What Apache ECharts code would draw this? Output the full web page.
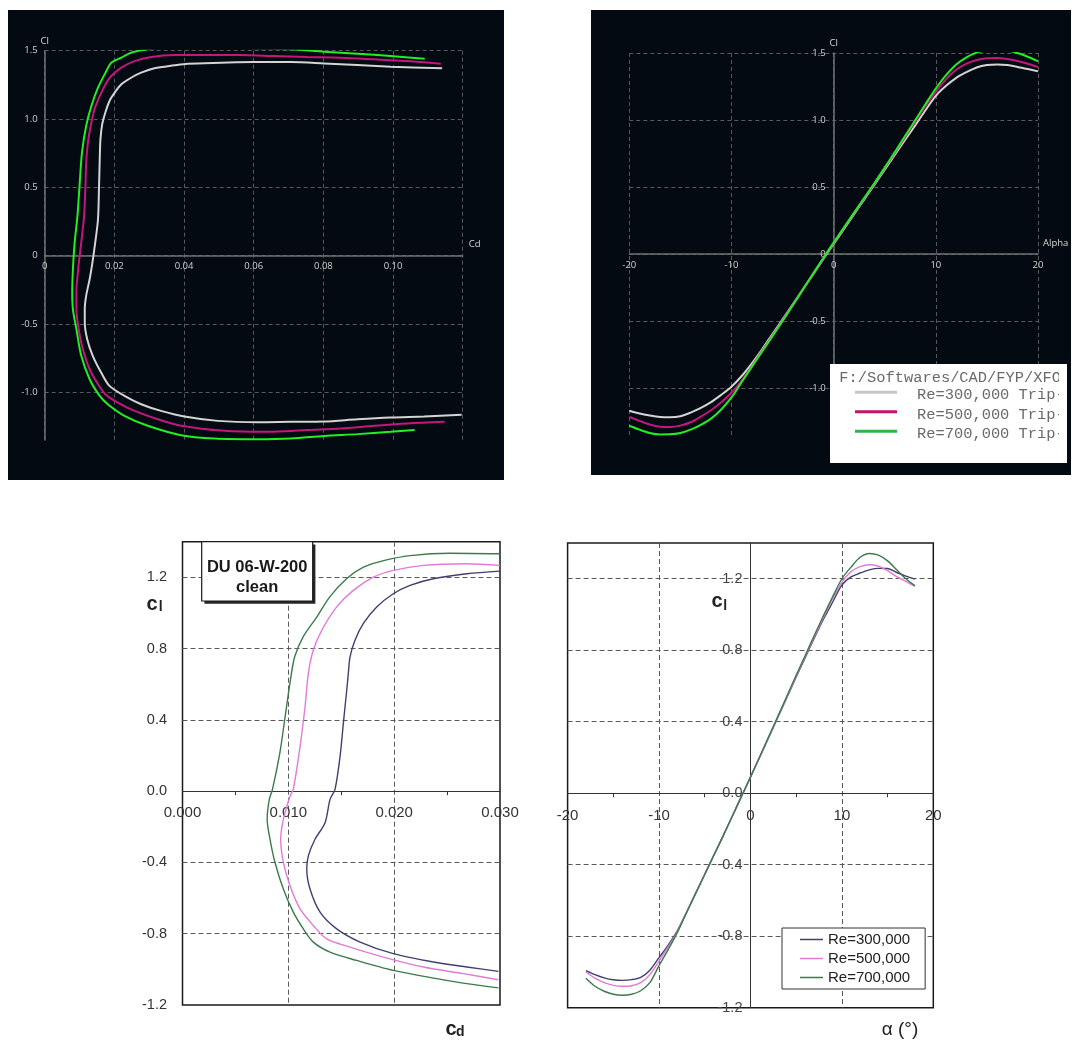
<!DOCTYPE html>
<html>
<head>
<meta charset="utf-8">
<title>DU 06-W-200 polars</title>
<script src="https://cdn.jsdelivr.net/npm/echarts@6/dist/echarts.min.js"></script>
<style>
  html, body { margin: 0; padding: 0; background: #ffffff; }
  #chart { width: 1072px; height: 1041px; }
</style>
</head>
<body>
<div id="chart"></div>
<script>
// ---------- XFLR5 drag polar (Cl vs Cd), walked from negative to positive alpha ----------
const tlCd300 = [0.1197, 0.1089, 0.0993, 0.0898, 0.0802, 0.0707, 0.0611, 0.0497, 0.0401, 0.0334, 0.0277, 0.0229, 0.0186, 0.0162, 0.0138, 0.0122, 0.0115, 0.0115, 0.0119, 0.0129, 0.0137, 0.0145, 0.0153, 0.0156, 0.0158, 0.0160, 0.0165, 0.0174, 0.0186, 0.0201, 0.0220, 0.0248, 0.0277, 0.0315, 0.0372, 0.0410, 0.0506, 0.0602, 0.0707, 0.0802, 0.0993, 0.1141];
const tlCl300 = [-1.166, -1.178, -1.185, -1.198, -1.215, -1.217, -1.220, -1.210, -1.178, -1.137, -1.088, -1.027, -0.954, -0.856, -0.734, -0.612, -0.490, -0.393, -0.295, -0.173, -0.051, 0.095, 0.266, 0.510, 0.705, 0.851, 0.961, 1.046, 1.132, 1.193, 1.254, 1.302, 1.339, 1.371, 1.393, 1.405, 1.412, 1.417, 1.417, 1.407, 1.383, 1.371];
const tlCd500 = [0.1148, 0.1041, 0.0946, 0.0850, 0.0755, 0.0640, 0.0516, 0.0392, 0.0325, 0.0258, 0.0201, 0.0174, 0.0153, 0.0129, 0.0107, 0.0096, 0.0091, 0.0091, 0.0097, 0.0105, 0.0113, 0.0117, 0.0119, 0.0124, 0.0132, 0.0143, 0.0158, 0.0177, 0.0191, 0.0220, 0.0258, 0.0306, 0.0372, 0.0468, 0.0564, 0.0659, 0.0755, 0.0850, 0.0946, 0.1041, 0.1137];
const tlCl500 = [-1.217, -1.229, -1.246, -1.266, -1.276, -1.290, -1.283, -1.246, -1.198, -1.137, -1.063, -1.015, -0.941, -0.832, -0.661, -0.515, -0.393, -0.271, -0.076, 0.095, 0.290, 0.510, 0.680, 0.827, 0.949, 1.071, 1.168, 1.266, 1.315, 1.376, 1.424, 1.454, 1.468, 1.468, 1.468, 1.461, 1.454, 1.449, 1.437, 1.424, 1.405];
const tlCd700 = [0.1062, 0.0993, 0.0898, 0.0802, 0.0707, 0.0611, 0.0487, 0.0392, 0.0296, 0.0229, 0.0181, 0.0158, 0.0129, 0.0105, 0.0091, 0.0081, 0.0079, 0.0081, 0.0086, 0.0094, 0.0100, 0.0107, 0.0119, 0.0134, 0.0153, 0.0177, 0.0191, 0.0220, 0.0248, 0.0296, 0.0372, 0.0506, 0.0602, 0.0707, 0.0802, 0.0898, 0.0993, 0.1091];
const tlCl700 = [-1.276, -1.290, -1.307, -1.320, -1.339, -1.344, -1.339, -1.315, -1.246, -1.173, -1.088, -1.027, -0.905, -0.734, -0.539, -0.393, -0.271, -0.100, 0.095, 0.290, 0.510, 0.754, 0.949, 1.095, 1.229, 1.351, 1.412, 1.449, 1.485, 1.510, 1.529, 1.527, 1.517, 1.510, 1.493, 1.478, 1.461, 1.441];

// ---------- XFLR5 lift curve (Cl vs Alpha) ----------
const trAlpha = [-20, -19, -18, -17, -16, -15, -14, -13, -12, -11, -10, -9, -8, -7, -6, -5, -4, -3, -2, -1, 0, 1, 2, 3, 4, 5, 6, 7, 8, 9, 10, 11, 12, 13, 14, 15, 16, 17, 18, 19, 20];
const trCl300 = [-1.169, -1.190, -1.205, -1.216, -1.218, -1.210, -1.183, -1.148, -1.105, -1.050, -0.990, -0.910, -0.815, -0.710, -0.598, -0.487, -0.375, -0.262, -0.150, -0.037, 0.075, 0.185, 0.297, 0.408, 0.518, 0.630, 0.742, 0.853, 0.962, 1.075, 1.180, 1.255, 1.315, 1.357, 1.392, 1.410, 1.415, 1.410, 1.396, 1.380, 1.363];
const trCl500 = [-1.216, -1.245, -1.272, -1.288, -1.290, -1.280, -1.255, -1.213, -1.165, -1.105, -1.035, -0.945, -0.835, -0.722, -0.610, -0.497, -0.380, -0.263, -0.146, -0.030, 0.082, 0.194, 0.306, 0.416, 0.526, 0.640, 0.755, 0.872, 0.990, 1.105, 1.210, 1.305, 1.375, 1.420, 1.448, 1.460, 1.462, 1.455, 1.440, 1.420, 1.396];
const trCl700 = [-1.281, -1.310, -1.335, -1.346, -1.345, -1.335, -1.310, -1.274, -1.228, -1.160, -1.070, -0.955, -0.840, -0.727, -0.614, -0.500, -0.382, -0.264, -0.146, -0.028, 0.085, 0.197, 0.309, 0.420, 0.530, 0.645, 0.762, 0.882, 1.000, 1.120, 1.235, 1.335, 1.415, 1.468, 1.503, 1.520, 1.525, 1.518, 1.500, 1.472, 1.438];

// ---------- DU 06-W-200 clean, measured drag polar ----------
const blCd300 = [0.02985, 0.02686, 0.0237, 0.01992, 0.01678, 0.01457, 0.013, 0.01205, 0.01174, 0.01189, 0.01252, 0.01347, 0.01394, 0.01441, 0.01489, 0.0152, 0.01552, 0.01567, 0.01583, 0.0163, 0.01709, 0.01835, 0.01992, 0.0215, 0.0237, 0.02686, 0.03];
const blCl300 = [-1.011, -0.987, -0.959, -0.912, -0.847, -0.773, -0.679, -0.549, -0.437, -0.363, -0.27, -0.177, -0.046, 0.01, 0.196, 0.382, 0.568, 0.661, 0.754, 0.847, 0.941, 1.034, 1.108, 1.155, 1.192, 1.22, 1.235];
const blCd500 = [0.02985, 0.02654, 0.02276, 0.01898, 0.01583, 0.01363, 0.01236, 0.01111, 0.01016, 0.00953, 0.00928, 0.00953, 0.01016, 0.01047, 0.01111, 0.01158, 0.01189, 0.01236, 0.01316, 0.01457, 0.01614, 0.01803, 0.01992, 0.02276, 0.02686, 0.03];
const blCl500 = [-1.058, -1.024, -0.987, -0.931, -0.875, -0.829, -0.754, -0.661, -0.531, -0.4, -0.27, -0.158, -0.028, 0.01, 0.251, 0.475, 0.661, 0.792, 0.903, 1.034, 1.127, 1.201, 1.239, 1.267, 1.276, 1.267];
const blCd700 = [0.02985, 0.02686, 0.02403, 0.01992, 0.01646, 0.01394, 0.01236, 0.01142, 0.01047, 0.00953, 0.00874, 0.00827, 0.008, 0.0082, 0.0085, 0.0092, 0.0097, 0.0102, 0.0106, 0.0114, 0.0127, 0.0139, 0.0155, 0.0171, 0.019, 0.0215, 0.02528, 0.03];
const blCl700 = [-1.104, -1.08, -1.052, -1.006, -0.95, -0.903, -0.847, -0.773, -0.679, -0.549, -0.4, -0.27, -0.158, -0.046, 0.01, 0.215, 0.419, 0.624, 0.754, 0.866, 0.978, 1.089, 1.192, 1.257, 1.294, 1.322, 1.335, 1.332];

// ---------- DU 06-W-200 clean, measured lift curve ----------
const brAlpha = [-18, -17, -16, -15, -14, -13, -12, -11, -10, -9, -8, -7, -6, -5, -4, -3, -2, -1, 0, 1, 2, 3, 4, 5, 6, 7, 8, 9, 10, 11, 12, 13, 14, 15, 16, 17, 18];
const brCl300 = [-0.992, -1.015, -1.033, -1.044, -1.047, -1.043, -1.03, -0.99, -0.92, -0.85, -0.77, -0.667, -0.56, -0.453, -0.346, -0.24, -0.13, -0.02, 0.09, 0.2, 0.312, 0.425, 0.537, 0.65, 0.76, 0.87, 0.975, 1.07, 1.165, 1.21, 1.232, 1.25, 1.258, 1.257, 1.235, 1.215, 1.198];
const brCl500 = [-1.0, -1.035, -1.06, -1.075, -1.08, -1.077, -1.06, -1.015, -0.94, -0.86, -0.775, -0.667, -0.56, -0.453, -0.346, -0.24, -0.13, -0.02, 0.09, 0.202, 0.315, 0.428, 0.54, 0.655, 0.766, 0.877, 0.985, 1.09, 1.18, 1.24, 1.268, 1.278, 1.27, 1.245, 1.212, 1.185, 1.158];
const brCl700 = [-1.035, -1.08, -1.108, -1.125, -1.13, -1.125, -1.105, -1.06, -0.965, -0.875, -0.78, -0.67, -0.562, -0.455, -0.347, -0.24, -0.13, -0.02, 0.09, 0.203, 0.317, 0.43, 0.545, 0.66, 0.772, 0.885, 0.995, 1.1, 1.2, 1.265, 1.32, 1.341, 1.332, 1.3, 1.25, 1.2, 1.16];

// series / legend names
const xflrNames = ['Re=300,000 Trip-', 'Re=500,000 Trip-', 'Re=700,000 Trip-'];
const duNames = ['Re=300,000', 'Re=500,000', 'Re=700,000'];
const xflrTitle = 'F:/Softwares/CAD/FYP/XFOIL';

// colours
const darkBg = '#030a11';
const xflrColors = ['#d4d4d4', '#c4177c', '#22ee22'];
const xflrLegendColors = ['#c6c6c6', '#c0146e', '#2fb44c'];
const duColors = ['#40406f', '#e27ad6', '#3b7b4b'];

const zip = (xs, ys) => xs.map((x, i) => [x, ys[i]]);

const uiFont = '"Open Sans", "Noto Sans", sans-serif';
const sansFont = '"Liberation Sans", Arial, sans-serif';
const monoFont = '"Liberation Mono", "DejaVu Sans Mono", monospace';

// plot rectangles and value ranges of the four panels
const grids = [
  { left: 44.7, top: 50.7, width: 418, height: 389.3 },
  { left: 629.3, top: 53, width: 408.7, height: 382 },
  { left: 182.5, top: 541.7, width: 317.5, height: 463.3 },
  { left: 567.6, top: 543, width: 365.7, height: 464.7 }
];
const yRanges = [[-1.35, 1.5], [-1.35, 1.5], [-1.2, 1.4], [-1.2, 1.4]];
const xRanges = [[0, 0.12], [-20, 20], [0, 0.03], [-20, 20]];

// axes cross at zero: shift each axis from the plot edge to its zero line
const xAxisShift = i => -grids[i].height * (0 - yRanges[i][0]) / (yRanges[i][1] - yRanges[i][0]);
const yAxisShift = i => -grids[i].width * (0 - xRanges[i][0]) / (xRanges[i][1] - xRanges[i][0]);

// shared dark-theme axis pieces
const darkSplit = { show: true, lineStyle: { color: '#555a5e', type: [4, 3], width: 1 } };
const darkLine = { show: true, onZero: false, lineStyle: { color: '#707070', width: 1.5 } };
const darkLabel = (margin, formatter) => ({ color: '#d2d2d2', fontSize: 9.5, fontFamily: uiFont, margin, formatter });
const darkName = { color: '#d8d8d8', fontSize: 9.5, fontFamily: uiFont };

// shared paper-style axis pieces
const paperSplit = { show: true, showMinLine: false, showMaxLine: false, lineStyle: { color: '#5a5a5a', type: [5, 3], width: 1 } };
const paperLine = { show: true, onZero: false, lineStyle: { color: '#333', width: 1 } };

const halfStep = v => Math.abs(v * 2 - Math.round(v * 2)) < 1e-6;
const darkY = v => (!halfStep(v) ? '' : (Math.abs(v) < 1e-9 ? '0' : v.toFixed(1)));
const paperY = v => (v > 1.3 ? '' : (Math.abs(v) < 1e-9 ? '0.0' : v.toFixed(1)));

// legend swatch: a 3px bar at the top of a taller box, so the label sits a little below it
const xflrSwatch = 'path://M0 0H42V3H0Z M0 8.99H0.01V9H0Z';

const lineSeries = (name, data, xi, color, width) => ({
  name, type: 'line', data, xAxisIndex: xi, yAxisIndex: xi,
  showSymbol: false, symbol: 'none', smooth: 0.3,
  lineStyle: { color, width }, itemStyle: { color },
  emphasis: { disabled: true }
});

const chart = echarts.init(document.getElementById('chart'), null, { renderer: 'canvas' });

chart.setOption({
  animation: false,
  backgroundColor: '#ffffff',
  grid: [
    Object.assign({ outerBoundsMode: 'none' }, grids[0]),
    Object.assign({ outerBoundsMode: 'none' }, grids[1]),
    Object.assign({ outerBoundsMode: 'none', show: true, borderColor: '#1a1a1a', borderWidth: 1.5, backgroundColor: 'transparent' }, grids[2]),
    Object.assign({ outerBoundsMode: 'none', show: true, borderColor: '#1a1a1a', borderWidth: 1.5, backgroundColor: 'transparent' }, grids[3])
  ],
  xAxis: [
    { gridIndex: 0, type: 'value', min: xRanges[0][0], max: xRanges[0][1], interval: 0.02, offset: xAxisShift(0),
      axisLine: darkLine, axisTick: { show: false }, splitLine: darkSplit,
      axisLabel: darkLabel(6, v => (v > 0.11 ? '' : (v === 0 ? '0' : v.toFixed(2)))),
      name: 'Cd', nameLocation: 'end', nameGap: 6,
      nameTextStyle: Object.assign({ verticalAlign: 'bottom', align: 'left', padding: [0, 0, 6, 0] }, darkName) },
    { gridIndex: 1, type: 'value', min: xRanges[1][0], max: xRanges[1][1], interval: 10, offset: xAxisShift(1),
      axisLine: darkLine, axisTick: { show: false }, splitLine: darkSplit,
      axisLabel: darkLabel(6.5, v => String(Math.round(v))),
      name: 'Alpha', nameLocation: 'end', nameGap: 5,
      nameTextStyle: Object.assign({ verticalAlign: 'bottom', align: 'left', padding: [0, 0, 6, 0] }, darkName) },
    { gridIndex: 2, type: 'value', min: xRanges[2][0], max: xRanges[2][1], interval: 0.01, offset: xAxisShift(2),
      axisLine: paperLine, axisTick: { show: false },
      minorTick: { show: true, splitNumber: 2, length: 4, lineStyle: { color: '#333', width: 1 } },
      splitLine: paperSplit,
      axisLabel: { color: '#333', fontSize: 15, fontFamily: sansFont, margin: 14, formatter: v => v.toFixed(3) } },
    { gridIndex: 3, type: 'value', min: xRanges[3][0], max: xRanges[3][1], interval: 10, offset: xAxisShift(3),
      axisLine: paperLine, axisTick: { show: false },
      minorTick: { show: true, splitNumber: 2, length: 4, lineStyle: { color: '#333', width: 1 } },
      splitLine: paperSplit,
      axisLabel: { color: '#333', fontSize: 15, fontFamily: sansFont, margin: 15, formatter: v => String(Math.round(v)) } }
  ],
  yAxis: [
    { gridIndex: 0, type: 'value', min: yRanges[0][0], max: yRanges[0][1], splitNumber: 6, minInterval: 0.5, maxInterval: 0.5,
      axisLine: darkLine, axisTick: { show: false },
      splitLine: Object.assign({ showMinLine: false }, darkSplit),
      axisLabel: darkLabel(7, darkY),
      name: 'Cl', nameLocation: 'end', nameGap: 3, nameTextStyle: darkName },
    { gridIndex: 1, type: 'value', min: yRanges[1][0], max: yRanges[1][1], splitNumber: 6, minInterval: 0.5, maxInterval: 0.5,
      offset: yAxisShift(1),
      axisLine: darkLine, axisTick: { show: false },
      splitLine: Object.assign({ showMinLine: false }, darkSplit),
      axisLabel: darkLabel(8, darkY),
      name: 'Cl', nameLocation: 'end', nameGap: 3, nameTextStyle: darkName },
    { gridIndex: 2, type: 'value', min: yRanges[2][0], max: yRanges[2][1], interval: 0.4,
      axisLine: { show: false }, axisTick: { show: false }, splitLine: paperSplit,
      axisLabel: { color: '#333', fontSize: 14.5, fontFamily: sansFont, margin: 15.5, formatter: paperY } },
    { gridIndex: 3, type: 'value', min: yRanges[3][0], max: yRanges[3][1], interval: 0.4, offset: yAxisShift(3),
      axisLine: paperLine, axisTick: { show: false }, splitLine: paperSplit,
      axisLabel: { color: '#444', fontSize: 14.5, fontFamily: sansFont, margin: 8, formatter: paperY } }
  ],
  legend: [
    { // XFLR5 legend box
      orient: 'vertical', left: 855, top: 385.5, padding: 0, itemGap: 0,
      icon: xflrSwatch, itemWidth: 42, itemHeight: 9, selectedMode: false, z: 6,
      textStyle: { fontFamily: monoFont, fontSize: 15.4, color: '#6a6a6a', lineHeight: 19.5, padding: [0, 0, 0, 15] },
      data: xflrNames.map((name, i) => ({ name, itemStyle: { color: xflrLegendColors[i] }, lineStyle: { color: xflrLegendColors[i] } }))
    },
    { // measured-data legend box
      orient: 'vertical', left: 782, top: 928, padding: [4, 15, 4, 18], itemGap: 4,
      backgroundColor: '#ffffff', borderColor: '#333', borderWidth: 1,
      icon: 'rect', itemWidth: 23, itemHeight: 1.5, selectedMode: false,
      textStyle: { fontFamily: sansFont, fontSize: 15, color: '#222', lineHeight: 15 },
      data: duNames.map((name, i) => ({ name, itemStyle: { color: duColors[i] } }))
    }
  ],
  graphic: [
    // dark panels behind the two XFLR5 plots
    { type: 'rect', z: -10, silent: true, shape: { x: 8, y: 10, width: 496, height: 470 }, style: { fill: darkBg } },
    { type: 'rect', z: -10, silent: true, shape: { x: 591, y: 10, width: 480, height: 465 }, style: { fill: darkBg } },
    // XFLR5 legend panel and its heading
    { type: 'rect', z: 3, silent: true, shape: { x: 830, y: 364, width: 237, height: 99 }, style: { fill: '#ffffff' } },
    { type: 'text', z: 7, silent: true, x: 839.3, y: 378,
      style: { text: xflrTitle, font: '15.4px ' + monoFont, fill: '#6a6a6a', align: 'left', verticalAlign: 'middle', textAlign: 'left', textVerticalAlign: 'middle' } },
    // the legend panel clips its text on the right
    { type: 'rect', z: 20, silent: true, shape: { x: 1059, y: 366, width: 8, height: 95 }, style: { fill: '#ffffff' } },
    { type: 'rect', z: 20, silent: true, shape: { x: 1067, y: 364, width: 4, height: 99 }, style: { fill: darkBg } },
    { type: 'rect', z: 20, silent: true, shape: { x: 1071, y: 364, width: 3, height: 99 }, style: { fill: '#ffffff' } },
    // airfoil caption box with drop shadow
    { type: 'rect', z: 8, silent: true, shape: { x: 204.4, y: 544.4, width: 111, height: 59.3 }, style: { fill: '#262626' } },
    { type: 'rect', z: 9, silent: true, shape: { x: 201.7, y: 541.7, width: 111, height: 59.3 }, style: { fill: '#ffffff', stroke: '#1a1a1a', lineWidth: 1.2 } },
    { type: 'text', z: 10, silent: true, x: 257.2, y: 567,
      style: { text: 'DU 06-W-200', font: 'bold 16.5px ' + sansFont, fill: '#1a1a1a', align: 'center', verticalAlign: 'middle', textAlign: 'center', textVerticalAlign: 'middle' } },
    { type: 'text', z: 10, silent: true, x: 257.2, y: 587,
      style: { text: 'clean', font: 'bold 16.5px ' + sansFont, fill: '#1a1a1a', align: 'center', verticalAlign: 'middle', textAlign: 'center', textVerticalAlign: 'middle' } },
    // axis titles of the measured-data plots
    { type: 'text', z: 10, silent: true, x: 146.5, y: 604,
      style: { text: 'c', font: 'bold 20px ' + sansFont, fill: '#222', align: 'left', verticalAlign: 'middle', textAlign: 'left', textVerticalAlign: 'middle' } },
    { type: 'text', z: 10, silent: true, x: 158.8, y: 607.5,
      style: { text: 'l', font: 'bold 14px ' + sansFont, fill: '#222', align: 'left', verticalAlign: 'middle', textAlign: 'left', textVerticalAlign: 'middle' } },
    { type: 'text', z: 10, silent: true, x: 711.5, y: 601,
      style: { text: 'c', font: 'bold 20px ' + sansFont, fill: '#222', align: 'left', verticalAlign: 'middle', textAlign: 'left', textVerticalAlign: 'middle' } },
    { type: 'text', z: 10, silent: true, x: 723.3, y: 606,
      style: { text: 'l', font: 'bold 14px ' + sansFont, fill: '#222', align: 'left', verticalAlign: 'middle', textAlign: 'left', textVerticalAlign: 'middle' } },
    { type: 'text', z: 10, silent: true, x: 445.5, y: 1029,
      style: { text: 'c', font: 'bold 20px ' + sansFont, fill: '#222', align: 'left', verticalAlign: 'middle', textAlign: 'left', textVerticalAlign: 'middle' } },
    { type: 'text', z: 10, silent: true, x: 456, y: 1032,
      style: { text: 'd', font: 'bold 14px ' + sansFont, fill: '#222', align: 'left', verticalAlign: 'middle', textAlign: 'left', textVerticalAlign: 'middle' } },
    { type: 'text', z: 10, silent: true, x: 900, y: 1030,
      style: { text: 'α (°)', font: '19px ' + sansFont, fill: '#222', align: 'center', verticalAlign: 'middle', textAlign: 'center', textVerticalAlign: 'middle' } }
  ],
  series: [
    lineSeries(xflrNames[0], zip(tlCd300, tlCl300), 0, xflrColors[0], 2),
    lineSeries(xflrNames[1], zip(tlCd500, tlCl500), 0, xflrColors[1], 2),
    lineSeries(xflrNames[2], zip(tlCd700, tlCl700), 0, xflrColors[2], 2),
    lineSeries(xflrNames[0], zip(trAlpha, trCl300), 1, xflrColors[0], 2),
    lineSeries(xflrNames[1], zip(trAlpha, trCl500), 1, xflrColors[1], 2),
    lineSeries(xflrNames[2], zip(trAlpha, trCl700), 1, xflrColors[2], 2),
    lineSeries(duNames[0], zip(blCd300, blCl300), 2, duColors[0], 1.4),
    lineSeries(duNames[1], zip(blCd500, blCl500), 2, duColors[1], 1.4),
    lineSeries(duNames[2], zip(blCd700, blCl700), 2, duColors[2], 1.4),
    lineSeries(duNames[0], zip(brAlpha, brCl300), 3, duColors[0], 1.4),
    lineSeries(duNames[1], zip(brAlpha, brCl500), 3, duColors[1], 1.4),
    lineSeries(duNames[2], zip(brAlpha, brCl700), 3, duColors[2], 1.4)
  ]
});
</script>
</body>
</html>
